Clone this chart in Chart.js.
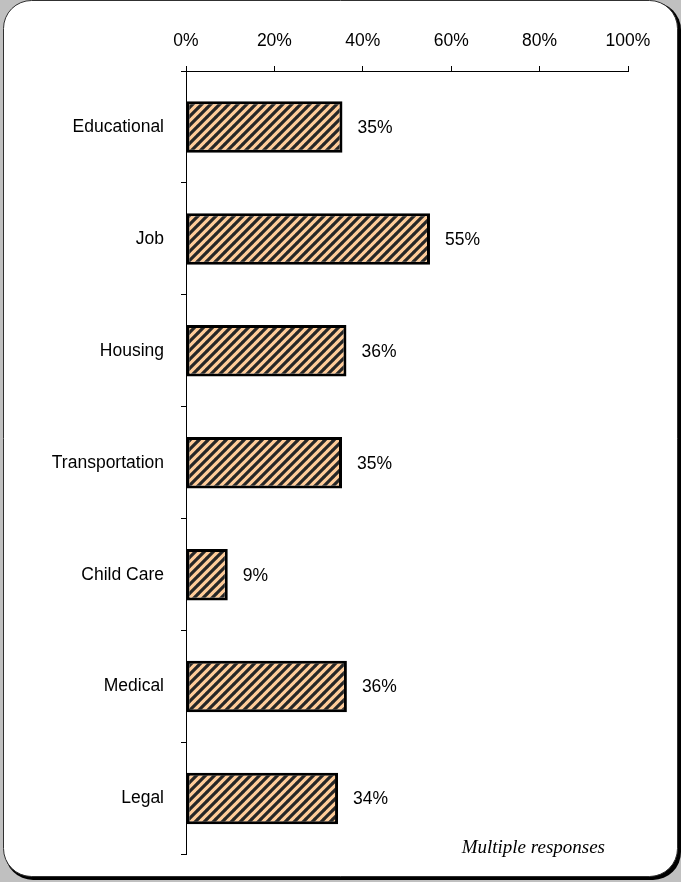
<!DOCTYPE html>
<html>
<head>
<meta charset="utf-8">
<script src="https://cdn.jsdelivr.net/npm/chart.js@4"></script>
<style>
html,body{margin:0;padding:0;background:#c0c0c0;}
#wrap{width:681px;height:882px;position:relative;}
canvas{display:block;}
</style>
</head>
<body>
<div id="wrap"><canvas id="c" width="681" height="882"></canvas></div>
<script>
const categories = ["Educational", "Job", "Housing", "Transportation", "Child Care", "Medical", "Legal"];
const values = [35.4, 55.2, 36.3, 35.3, 9.45, 36.4, 34.4];
const valueLabels = ["35%", "55%", "36%", "35%", "9%", "36%", "34%"];
const xTicks = [0, 20, 40, 60, 80, 100];
const note = "Multiple responses";

function makePattern() {
  const s = 9;
  const p = document.createElement('canvas');
  p.width = s; p.height = s;
  const g = p.getContext('2d');
  g.fillStyle = '#FFCC99';
  g.fillRect(0, 0, s, s);
  g.strokeStyle = '#262626';
  g.lineWidth = 3.2;
  g.beginPath();
  for (let k = -1; k <= 1; k++) {
    g.moveTo(k * s - 1, s + 1);
    g.lineTo(k * s + s + 1, -1);
  }
  g.stroke();
  return document.getElementById('c').getContext('2d').createPattern(p, 'repeat');
}

function rr(ctx, x, y, w, h, r) {
  ctx.beginPath();
  ctx.moveTo(x + r, y);
  ctx.lineTo(x + w - r, y);
  ctx.arcTo(x + w, y, x + w, y + r, r);
  ctx.lineTo(x + w, y + h - r);
  ctx.arcTo(x + w, y + h, x + w - r, y + h, r);
  ctx.lineTo(x + r, y + h);
  ctx.arcTo(x, y + h, x, y + h - r, r);
  ctx.lineTo(x, y + r);
  ctx.arcTo(x, y, x + r, y, r);
  ctx.closePath();
}

const framePlugin = {
  id: 'frame',
  beforeDraw(chart) {
    const ctx = chart.ctx;
    ctx.save();
    ctx.fillStyle = '#c0c0c0';
    ctx.fillRect(0, 0, chart.width, chart.height);
    ctx.fillStyle = '#000';
    rr(ctx, 5, 2, 676, 878, 28);
    ctx.fill();
    ctx.fillStyle = '#fff';
    rr(ctx, 3.5, 0.5, 674, 876, 28);
    ctx.fill();
    ctx.strokeStyle = '#303030';
    ctx.lineWidth = 1;
    ctx.stroke();
    ctx.restore();
  },
  afterDraw(chart) {
    const ctx = chart.ctx;
    ctx.save();
    ctx.font = 'italic 19px "Liberation Serif", "Times New Roman", serif';
    ctx.fillStyle = '#000';
    ctx.textAlign = 'right';
    ctx.textBaseline = 'alphabetic';
    ctx.fillText(note, 605, 853);
    ctx.restore();
  }
};

const labelPlugin = {
  id: 'vlabels',
  afterDatasetsDraw(chart) {
    const ctx = chart.ctx;
    const meta = chart.getDatasetMeta(0);
    ctx.save();
    ctx.font = '17.5px "Liberation Sans", Arial, sans-serif';
    ctx.fillStyle = '#000';
    ctx.textAlign = 'left';
    ctx.textBaseline = 'middle';
    meta.data.forEach((bar, i) => {
      ctx.fillText(valueLabels[i], bar.x + 15, bar.y + 1);
    });
    ctx.restore();
  }
};

Chart.defaults.font.family = '"Liberation Sans", Arial, sans-serif';
Chart.defaults.font.size = 17.5;
Chart.defaults.color = '#000';

new Chart(document.getElementById('c'), {
  type: 'bar',
  data: {
    labels: categories,
    datasets: [{
      data: values,
      backgroundColor: makePattern(),
      borderColor: '#000',
      borderWidth: 3,
      borderSkipped: false,
      barPercentage: 0.46,
      categoryPercentage: 1
    }]
  },
  options: {
    indexAxis: 'y',
    responsive: false,
    animation: false,
    devicePixelRatio: 1,
    layout: { padding: { left: 0, top: 0, right: 53, bottom: 27 } },
    plugins: { legend: { display: false }, tooltip: { enabled: false } },
    scales: {
      x: {
        position: 'top',
        min: 0, max: 100,
        afterBuildTicks(scale) { scale.ticks = xTicks.map(v => ({ value: v })); },
        afterFit(scale) { scale.height = 71; },
        ticks: {
          callback: v => v + '%',
          padding: 14,
          font: { size: 17.5 },
          color: '#000'
        },
        grid: { drawOnChartArea: false, drawTicks: true, tickLength: 5, color: '#000', lineWidth: 1 },
        border: { display: true, color: '#000', width: 1 }
      },
      y: {
        afterFit(scale) { scale.width = 186; },
        ticks: { padding: 17, font: { size: 17.5 }, color: '#000' },
        grid: { drawOnChartArea: false, drawTicks: true, tickLength: 5, color: '#000', lineWidth: 1, offset: true },
        border: { display: true, color: '#000', width: 1 }
      }
    }
  },
  plugins: [framePlugin, labelPlugin]
});
</script>
</body>
</html>
